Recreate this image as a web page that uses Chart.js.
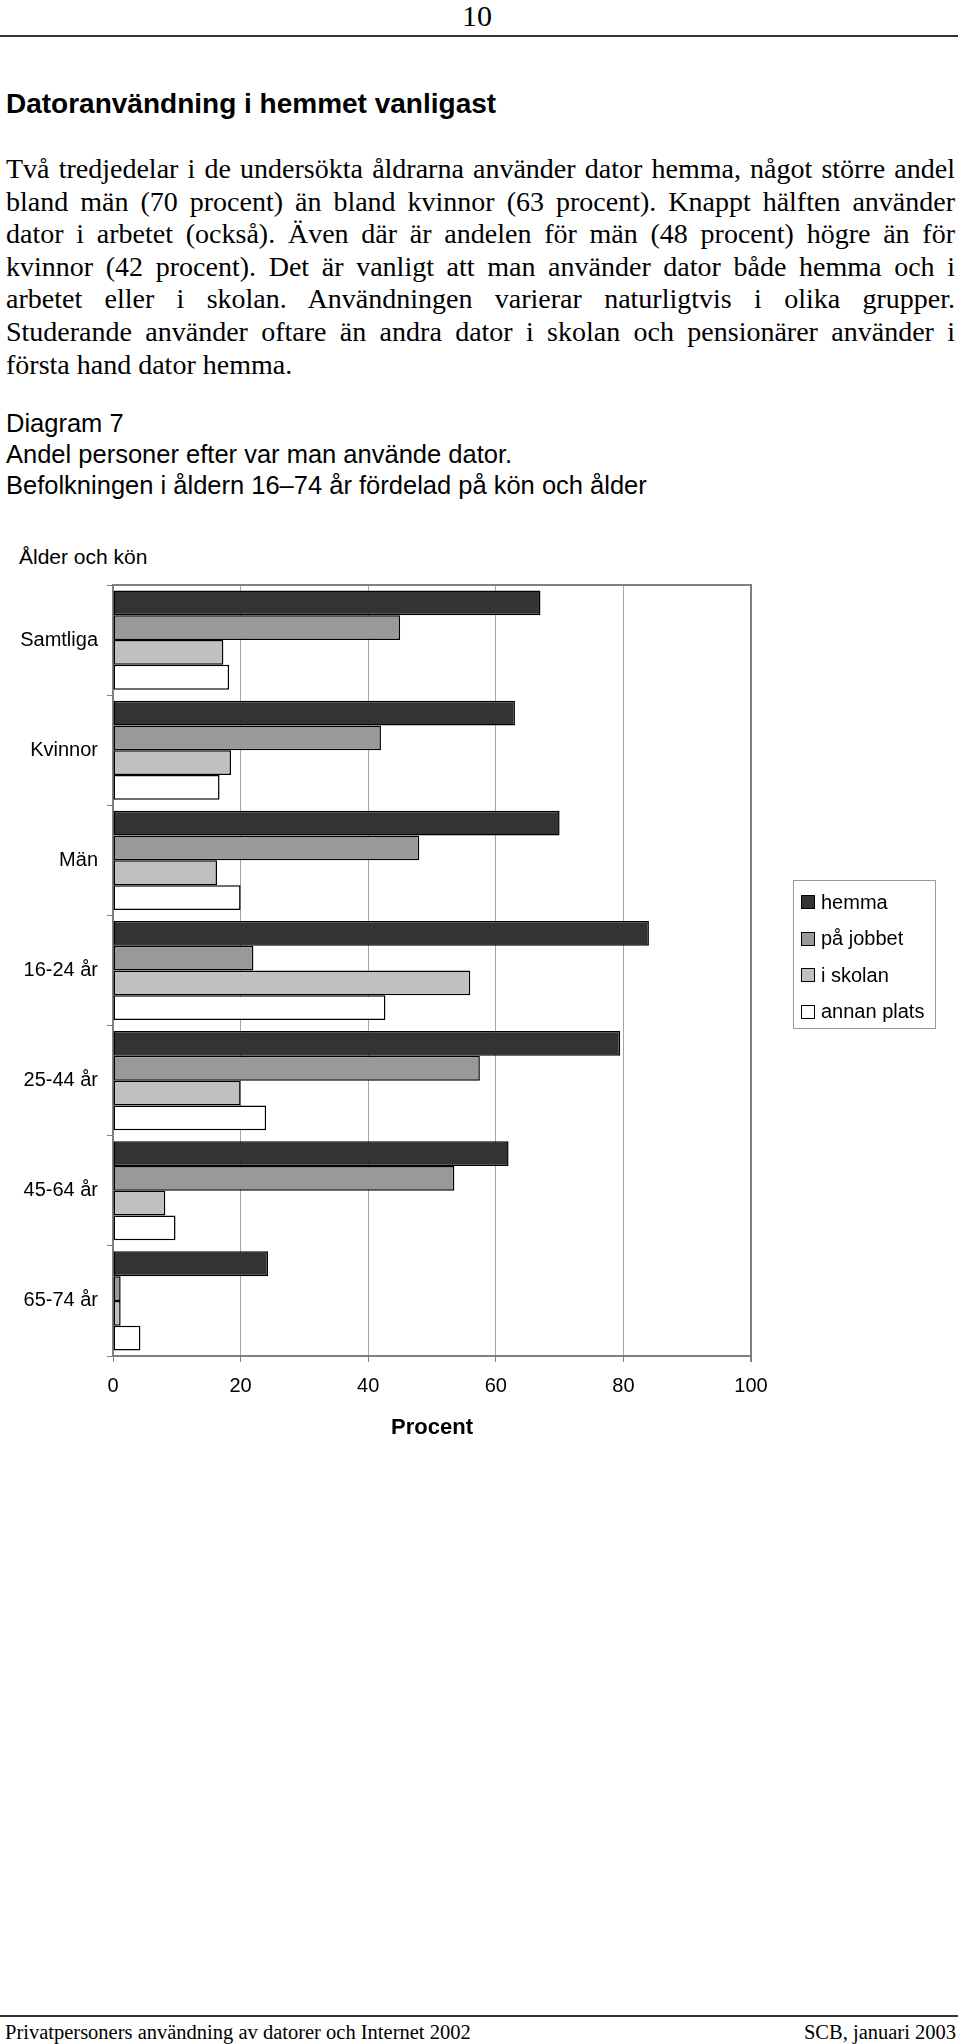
<!DOCTYPE html>
<html lang="sv">
<head>
<meta charset="utf-8">
<title>Diagram 7 – Andel personer efter var man använde dator</title>
<script src="https://cdn.jsdelivr.net/npm/chart.js@4.4.1/dist/chart.umd.min.js"></script>
<style>
  html, body { margin: 0; padding: 0; background: #fff; }
  body {
    width: 960px; height: 2044px; position: relative; overflow: hidden;
    font-family: "Liberation Serif", "Times New Roman", serif; color: #000;
  }
  .abs { position: absolute; }
  .sans { font-family: "Liberation Sans", Arial, Helvetica, sans-serif; }
  #sidnr { left: 0; top: 0; width: 954px; text-align: center; font-size: 30px; line-height: 32px; }
  .linje { left: 0; width: 958px; height: 2px; background: #333; }
  #rubrik { left: 6px; top: 88px; font-weight: bold; font-size: 28px; line-height: 32px; }
  #brodtext { left: 6px; top: 153px; width: 949px; font-size: 28px; line-height: 32.6px; }
  #brodtext div { text-align: justify; text-align-last: justify; }
  #brodtext div.sista { text-align-last: left; }
  #diagramtext { left: 6px; top: 408px; font-size: 25.5px; line-height: 31px; }
  #axelrubrik { left: 19px; top: 545px; font-size: 21px; line-height: 24px; }
  #diagram { left: 0; top: 564px; width: 960px; height: 881px; }
  #legend {
    left: 793px; top: 880px; width: 143px; height: 149px; box-sizing: border-box;
    border: 1px solid #9a9a9a; padding: 3px 0 0 7px; font-size: 20px;
  }
  #legend .rad { height: 36.5px; display: flex; align-items: center; }
  #legend .ruta { width: 14px; height: 14px; box-sizing: border-box; border: 1.5px solid #000; margin-right: 6px; }
  #sidfot { left: 5px; top: 2020px; width: 951px; font-size: 20.5px; line-height: 25px; display: flex; justify-content: space-between; }
</style>
</head>
<body>
<div id="sidnr" class="abs">10</div>
<div class="abs linje" style="top:35px"></div>

<div id="rubrik" class="abs sans">Datoranvändning i hemmet vanligast</div>

<div id="brodtext" class="abs">
  <div>Två tredjedelar i de undersökta åldrarna använder dator hemma, något större andel</div>
  <div>bland män (70 procent) än bland kvinnor (63 procent). Knappt hälften använder</div>
  <div>dator i arbetet (också). Även där är andelen för män (48 procent) högre än för</div>
  <div>kvinnor (42 procent). Det är vanligt att man använder dator både hemma och i</div>
  <div>arbetet eller i skolan. Användningen varierar naturligtvis i olika grupper.</div>
  <div>Studerande använder oftare än andra dator i skolan och pensionärer använder i</div>
  <div class="sista">första hand dator hemma.</div>
</div>

<div id="diagramtext" class="abs sans">
  <div>Diagram 7</div>
  <div>Andel personer efter var man använde dator.</div>
  <div>Befolkningen i åldern 16–74 år fördelad på kön och ålder</div>
</div>

<div id="axelrubrik" class="abs sans">Ålder och kön</div>

<div id="diagram" class="abs"><canvas id="datorChart" width="960" height="881"></canvas></div>
<div id="legend" class="abs sans"></div>

<div class="abs linje" style="top:2015px"></div>
<div id="sidfot" class="abs">
  <span>Privatpersoners användning av datorer och Internet 2002</span>
  <span>SCB, januari 2003</span>
</div>

<script>
// data (procent)
const kategorier = ['Samtliga', 'Kvinnor', 'Män', '16-24 år', '25-44 år', '45-64 år', '65-74 år'];
const hemma = [67, 63, 70, 84, 79.5, 62, 24.3];
const paJobbet = [45, 42, 48, 22, 57.5, 53.5, 1.2];
const iSkolan = [17.3, 18.5, 16.3, 56, 20, 8.2, 1.2];
const annanPlats = [18.2, 16.7, 20, 42.7, 24, 9.8, 4.3];
const serieNamn = ['hemma', 'på jobbet', 'i skolan', 'annan plats'];
const xTicks = [0, 20, 40, 60, 80, 100];

const farger = ['#333333', '#999999', '#c0c0c0', '#ffffff'];
const typsnitt = '"Liberation Sans", Arial, Helvetica, sans-serif';

// ram upptill på diagramytan
const ramPlugin = {
    id: 'ram',
    afterDraw(chart) {
        const { ctx, chartArea } = chart;
        ctx.save();
        ctx.strokeStyle = '#808080';
        ctx.lineWidth = 2;
        ctx.beginPath();
        ctx.moveTo(chartArea.left, chartArea.top);
        ctx.lineTo(chartArea.right + 1, chartArea.top);
        ctx.stroke();
        ctx.restore();
    }
};

const serier = [hemma, paJobbet, iSkolan, annanPlats];

const chart = new Chart(document.getElementById('datorChart'), {
    type: 'bar',
    data: {
        labels: kategorier,
        datasets: serier.map((values, i) => ({
            label: serieNamn[i],
            data: values,
            backgroundColor: farger[i],
            borderColor: '#000',
            borderWidth: 1.5,
            borderSkipped: false,
            categoryPercentage: 0.9,
            barPercentage: 1.0
        }))
    },
    options: {
        indexAxis: 'y',
        responsive: false,
        animation: false,
        layout: { padding: { left: 0, right: 209, top: 0, bottom: 0 } },
        plugins: {
            legend: { display: false },
            tooltip: { enabled: false }
        },
        scales: {
            x: {
                min: 0,
                max: 100,
                afterBuildTicks: (scale) => { scale.ticks = xTicks.map(v => ({ value: v })); },
                ticks: { color: '#000', font: { family: typsnitt, size: 20 }, padding: 12 },
                grid: {
                    color: (c) => (c.tick && c.tick.value === 100 ? '#808080' : '#a6a6a6'),
                    lineWidth: (c) => (c.tick && c.tick.value === 100 ? 2 : 1),
                    tickColor: '#808080',
                    tickLength: 6
                },
                border: { color: '#808080', width: 2 },
                title: {
                    display: true,
                    text: 'Procent',
                    color: '#000',
                    font: { family: typsnitt, size: 22, weight: 'bold' },
                    padding: { top: 4, bottom: 4 }
                },
                afterFit: (scale) => { scale.height = 89; }
            },
            y: {
                ticks: { color: '#000', font: { family: typsnitt, size: 20 }, padding: 9 },
                grid: { drawOnChartArea: false, tickColor: '#808080', tickLength: 6, offset: true },
                border: { color: '#808080', width: 2 },
                afterFit: (scale) => { scale.width = 113; }
            }
        }
    },
    plugins: [ramPlugin]
});

// teckenförklaring byggd från dataseten
const legendDiv = document.getElementById('legend');
chart.data.datasets.forEach(ds => {
    const rad = document.createElement('div');
    rad.className = 'rad';
    rad.innerHTML = `<span class="ruta" style="background:${ds.backgroundColor}"></span><span>${ds.label}</span>`;
    legendDiv.appendChild(rad);
});
</script>
</body>
</html>
